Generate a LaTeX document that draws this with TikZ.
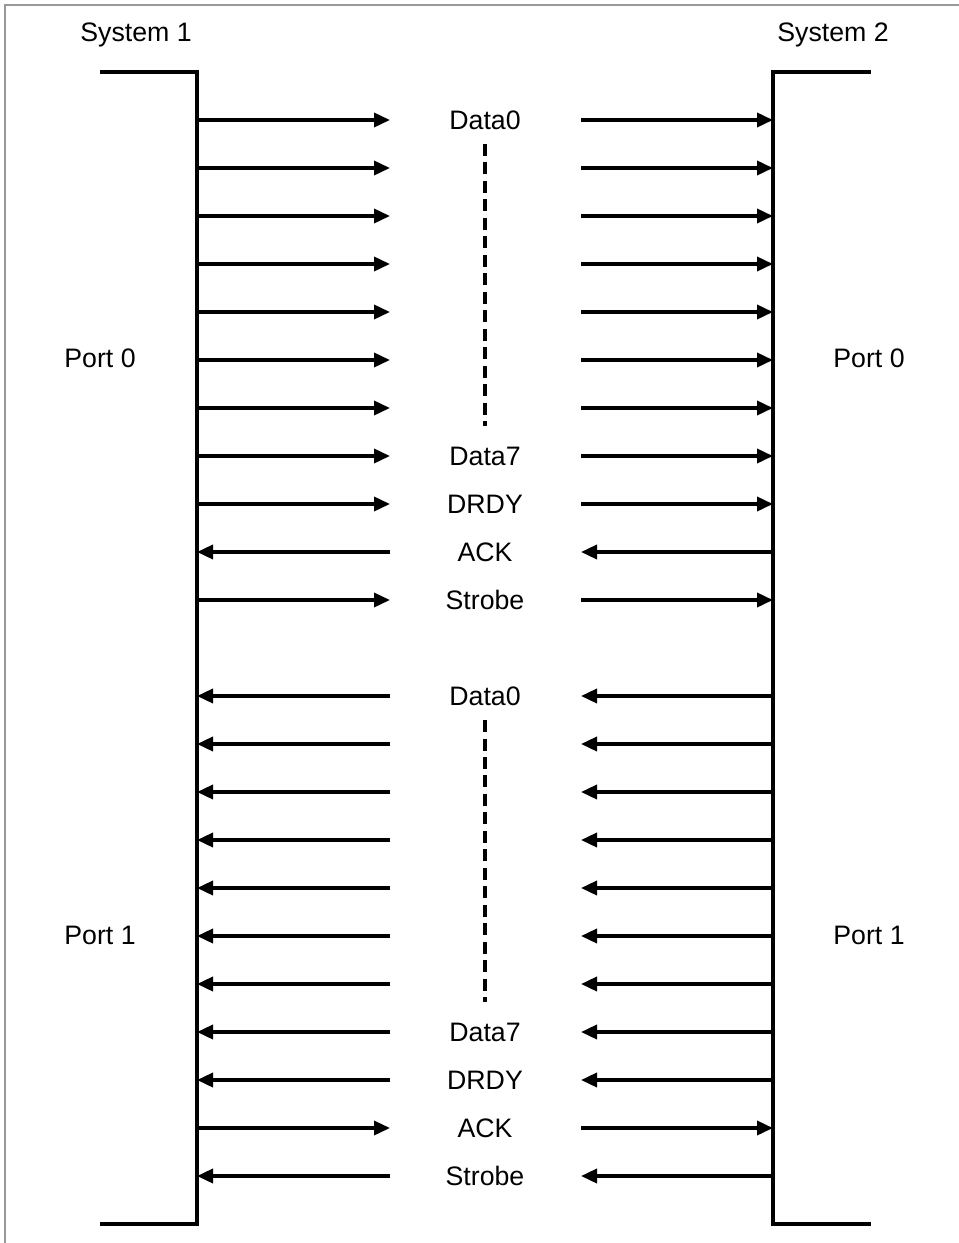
\documentclass[tikz,border=0pt]{standalone}
\usepackage{fontspec}
\setmainfont{Liberation Sans}
\usetikzlibrary{arrows.meta}
\tikzset{
  wire/.style={line width=2pt, -{Triangle[length=0.32cm,width=0.28cm]}},
  bus/.style={line width=2pt},
  sig/.style={font=\fontsize{15.2}{18}\selectfont, inner sep=0pt},
}
\begin{document}
\begin{tikzpicture}[x=0.02cm, y=-0.02cm]
  \useasboundingbox (0,0) rectangle (959,1243);
  \draw[gray!80, line width=0.8pt] (5,1243) -- (5,5) -- (959,5);
  % the two systems
  \draw[bus] (100,72) -- (197,72) -- (197,1224) -- (100,1224);
  \draw[bus] (871,72) -- (773,72) -- (773,1224) -- (871,1224);
  \node[sig] (sysa) at (136,35) {System 1};
  \node[sig] (sysb) at (833,35) {System 2};
  \node[sig] (porta) at (100,358) {Port 0};
  \node[sig] (portb) at (100,935) {Port 1};
  \node[sig] (portc) at (869,358) {Port 0};
  \node[sig] (portd) at (869,935) {Port 1};
  % line ends
  \foreach \y in {120,168,...,600,696,744,...,1176} {
    \coordinate (l\y) at (197,\y);
    \coordinate (m\y) at (390,\y);
    \coordinate (n\y) at (581,\y);
    \coordinate (r\y) at (773,\y);
  }
  % System 1 -> System 2
  \foreach \y in {120,168,...,504,600,1128} {
    \draw[wire] (l\y) -- (m\y);
    \draw[wire] (n\y) -- (r\y);
  }
  % System 2 -> System 1
  \foreach \y in {552,696,744,...,1080,1176} {
    \draw[wire] (r\y) -- (n\y);
    \draw[wire] (m\y) -- (l\y);
  }
  % signal names
  \node[sig] (dza) at (485,120) {Data0};
  \node[sig] (dsa) at (485,456) {Data7};
  \node[sig] (drdya) at (485,504) {DRDY};
  \node[sig] (acka) at (485,552) {ACK};
  \node[sig] (stba) at (485,600) {Strobe};
  \node[sig] (dzb) at (485,696) {Data0};
  \node[sig] (dsb) at (485,1032) {Data7};
  \node[sig] (drdyb) at (485,1080) {DRDY};
  \node[sig] (ackb) at (485,1128) {ACK};
  \node[sig] (stbb) at (485,1176) {Strobe};
  \coordinate (ga) at (485,144);
  \coordinate (gb) at (485,426);
  \coordinate (gc) at (485,720);
  \coordinate (gd) at (485,1002);
  \draw[line width=2pt, dash pattern=on 0.24cm off 0.13cm] (ga) -- (gb);
  \draw[line width=2pt, dash pattern=on 0.24cm off 0.13cm] (gc) -- (gd);
\end{tikzpicture}
\end{document}
